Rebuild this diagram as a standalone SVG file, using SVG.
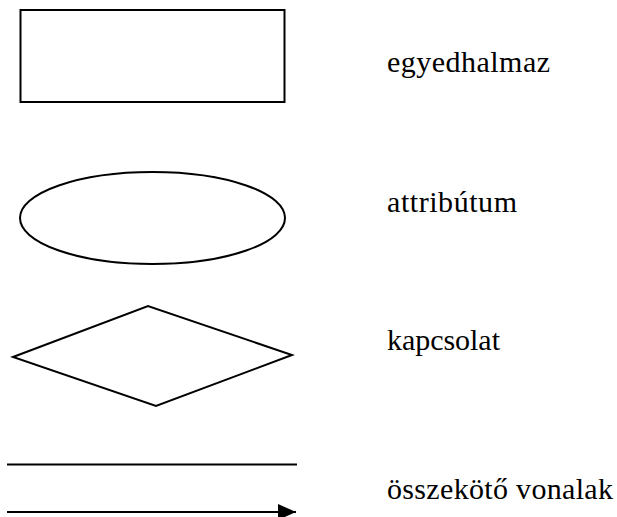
<svg xmlns="http://www.w3.org/2000/svg" width="617" height="517" viewBox="0 0 617 517">
<defs>
<style>
.shape{fill:#fff;stroke:#000;stroke-width:2}
.line{fill:none;stroke:#000;stroke-width:2}
.lbl{font-family:"Liberation Serif","Times New Roman",serif;font-size:30px;fill:#000}
</style>
<marker id="arrow" markerUnits="userSpaceOnUse" markerWidth="20" markerHeight="18" refX="18" refY="8" orient="auto">
<path d="M0,0 L18,8 L0,16 Z" fill="#000"/>
</marker>
</defs>
<rect width="617" height="517" fill="#fff"/>
<g id="egyedhalmaz">
<rect class="shape" x="20.5" y="10" width="264" height="92"/>
<text class="lbl" x="387" y="72" textLength="163" lengthAdjust="spacing">egyedhalmaz</text>
</g>
<g id="attributum">
<ellipse class="shape" cx="152.5" cy="218" rx="132.5" ry="46"/>
<text class="lbl" x="387" y="212" textLength="130" lengthAdjust="spacing">attribútum</text>
</g>
<g id="kapcsolat">
<polygon class="shape" points="13,357 148,306 292,355 156,406"/>
<text class="lbl" x="387" y="350" textLength="113" lengthAdjust="spacing">kapcsolat</text>
</g>
<g id="connectors">
<line class="line" x1="7" y1="464.5" x2="297" y2="464.5"/>
<line class="line" x1="7" y1="512" x2="296" y2="512" marker-end="url(#arrow)"/>
</g>
<g id="osszekoto">
<text class="lbl" x="387" y="499" textLength="226" lengthAdjust="spacing">összekötő vonalak</text>
</g>
</svg>
